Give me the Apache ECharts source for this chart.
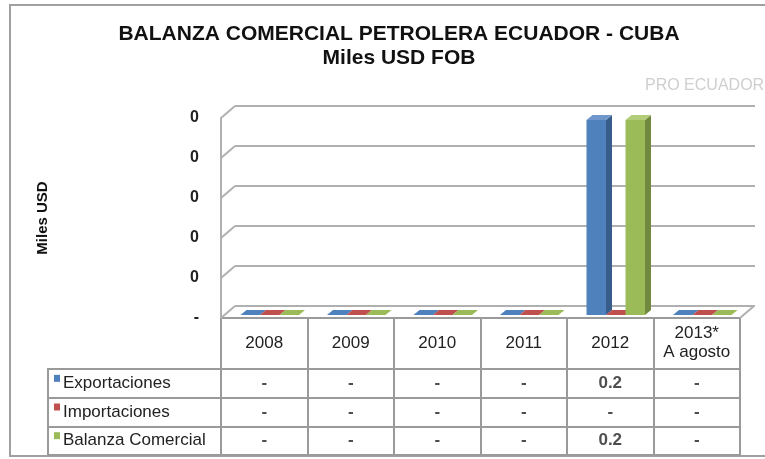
<!DOCTYPE html>
<html lang="es">
<head>
  <meta charset="UTF-8">
  <title>Balanza Comercial Petrolera Ecuador - Cuba</title>
  <script src="https://cdn.jsdelivr.net/npm/echarts@6/dist/echarts.min.js"></script>
  <style>
    html, body { margin: 0; padding: 0; background: #fff; }
    #chart { width: 765px; height: 459px; }
  </style>
</head>
<body>
  <div id="chart"></div>
  <script>
    // datos (miles USD FOB)
    var categories = ['2008', '2009', '2010', '2011', '2012', '2013*\nA agosto'];
    var seriesNames = ['Exportaciones', 'Importaciones', 'Balanza Comercial'];
    var exportaciones = [0, 0, 0, 0, 0.195, 0];
    var importaciones = [0, 0, 0, 0, 0, 0];
    var balanza = [0, 0, 0, 0, 0.195, 0];
    var yTicks = [0, 0.04, 0.08, 0.12, 0.16, 0.2];

    var seriesValues = [exportaciones, importaciones, balanza];
    var colors = ['#4F81BD', '#C0504D', '#9BBB59'];
    var sideColors = ['#385D8A', '#8C3836', '#71893F'];
    var topColors = ['#6F97CC', '#D06A67', '#B2CC7A'];

    var FONT = 'Liberation Sans, Arial, sans-serif';
    var GRID_COLOR = '#b0b0b0';
    var TABLE_COLOR = '#9a9a9a';
    // profundidad de la pared (efecto 3D)
    var WALL_DX = 14, WALL_DY = -12;
    // desplazamiento y fondo de las barras
    var BAR_W = 19.5, BAR_SHIFT_X = 5.5, BAR_SHIFT_Y = -3, BAR_DX = 6, BAR_DY = -5;

    var myChart = echarts.init(document.getElementById('chart'));

    function fmtValue(v) {
      return v === 0 ? '-' : v.toFixed(1);
    }

    // caja 3D para cada barra
    function boxRenderer(si) {
      return function (params, api) {
        var ci = api.value(0);
        var v = api.value(1);
        var base = api.coord([ci, 0]);
        var tip = api.coord([ci, v]);
        var x0 = base[0] + (si - 1) * BAR_W - BAR_W / 2 + BAR_SHIFT_X;
        var yb = base[1] + BAR_SHIFT_Y;
        var yt = tip[1] + BAR_SHIFT_Y;
        var children = [];
        if (v > 0) {
          children.push({
            type: 'rect',
            shape: { x: x0, y: yt, width: BAR_W, height: yb - yt },
            style: { fill: colors[si] }
          });
          children.push({
            type: 'polygon',
            shape: { points: [[x0 + BAR_W, yt], [x0 + BAR_W + BAR_DX, yt + BAR_DY], [x0 + BAR_W + BAR_DX, yb + BAR_DY], [x0 + BAR_W, yb]] },
            style: { fill: sideColors[si] }
          });
        }
        children.push({
          type: 'polygon',
          shape: { points: [[x0, yt], [x0 + BAR_W, yt], [x0 + BAR_W + BAR_DX, yt + BAR_DY], [x0 + BAR_DX, yt + BAR_DY]] },
          style: { fill: v > 0 ? topColors[si] : colors[si] }
        });
        return { type: 'group', children: children };
      };
    }

    // aristas diagonales de la pared y del piso
    function wallRenderer(params, api) {
      var v = api.value(1);
      var p = api.coord([0, v]);
      var bw = api.size([1, 0])[0];
      var left = p[0] - bw / 2;
      var lineStyle = { stroke: GRID_COLOR, lineWidth: 2 };
      var children = [{
        type: 'line',
        shape: { x1: left, y1: p[1], x2: left + WALL_DX, y2: p[1] + WALL_DY },
        style: lineStyle
      }];
      if (v === 0) {
        var right = api.coord([categories.length - 1, 0])[0] + bw / 2;
        children.push({
          type: 'line',
          shape: { x1: right, y1: p[1], x2: right + WALL_DX, y2: p[1] + WALL_DY },
          style: lineStyle
        });
      }
      return { type: 'group', children: children };
    }

    var tableCells = [];
    seriesValues.forEach(function (arr, si) {
      arr.forEach(function (v, ci) {
        tableCells.push([ci, si, v]);
      });
    });

    var legendRich = {};
    colors.forEach(function (c, i) {
      legendRich['sq' + i] = { width: 6, height: 7, backgroundColor: c, verticalAlign: 'top' };
    });
    legendRich.t = { fontFamily: FONT, fontSize: 17, color: '#222', padding: [0, 0, 0, 3] };

    var hiddenValueAxis = function (gi) {
      return { type: 'value', gridIndex: gi, show: false, min: 0, max: 1 };
    };

    var option = {
      backgroundColor: '#fff',
      animation: false,
      title: {
        text: 'BALANZA COMERCIAL PETROLERA ECUADOR - CUBA\nMiles USD FOB',
        left: 394,
        top: 17,
        textAlign: 'center',
        textStyle: {
          fontFamily: FONT,
          fontSize: 21,
          fontWeight: 'bold',
          color: '#111',
          lineHeight: 24
        }
      },
      graphic: [
        {
          type: 'rect',
          shape: { x: 10, y: 5, width: 770, height: 451 },
          style: { fill: 'none', stroke: '#a0a0a0', lineWidth: 2 },
          silent: true
        },
        {
          type: 'text',
          left: 645,
          top: 78,
          style: { text: 'PRO ECUADOR', fontFamily: FONT, fontSize: 16, fill: '#cfcfcf' },
          silent: true
        }
      ],
      grid: [
        { left: 221, right: 25, top: 118, height: 200 },   // plano frontal (barras)
        { left: 235, right: 10, top: 106, height: 200 },   // pared del fondo
        { left: 221, right: 25, top: 318, height: 51, show: true, borderColor: TABLE_COLOR, borderWidth: 2 }, // años
        { left: 48, width: 173, top: 369, height: 86, show: true, borderColor: TABLE_COLOR, borderWidth: 2 },  // leyenda
        { left: 221, right: 25, top: 369, height: 86, show: true, borderColor: TABLE_COLOR, borderWidth: 2 }   // valores
      ],
      xAxis: [
        { type: 'category', gridIndex: 0, data: categories, show: false },
        { type: 'category', gridIndex: 1, data: categories, show: false },
        {
          type: 'category', gridIndex: 2, data: categories,
          axisLine: { show: false }, axisTick: { show: false },
          splitLine: { show: true, interval: 0, lineStyle: { color: TABLE_COLOR, width: 2 } },
          axisLabel: {
            interval: 0, margin: -26, verticalAlign: 'middle',
            fontFamily: FONT, fontSize: 17, color: '#222', lineHeight: 19
          }
        },
        hiddenValueAxis(3),
        {
          type: 'category', gridIndex: 4, data: categories,
          axisLine: { show: false }, axisTick: { show: false }, axisLabel: { show: false },
          splitLine: { show: true, interval: 0, lineStyle: { color: TABLE_COLOR, width: 2 } }
        }
      ],
      yAxis: [
        {
          type: 'value', gridIndex: 0, min: 0, max: 0.2, interval: 0.04,
          name: 'Miles USD', nameLocation: 'middle', nameRotate: 90, nameGap: 171,
          nameTextStyle: { fontFamily: FONT, fontSize: 15, fontWeight: 'bold', color: '#111' },
          axisLine: { show: true, lineStyle: { color: GRID_COLOR, width: 2 } },
          axisTick: { show: false },
          splitLine: { show: false },
          axisLabel: {
            margin: 22, fontFamily: FONT, fontSize: 16, fontWeight: 'bold', color: '#222',
            formatter: function (v) { return v === 0 ? '-' : Math.round(v).toString(); }
          }
        },
        {
          type: 'value', gridIndex: 1, min: 0, max: 0.2, interval: 0.04,
          axisLine: { show: false }, axisTick: { show: false }, axisLabel: { show: false },
          splitLine: { show: true, lineStyle: { color: GRID_COLOR, width: 2 } }
        },
        hiddenValueAxis(2),
        {
          type: 'category', gridIndex: 3, data: seriesNames, inverse: true,
          axisLine: { show: false }, axisTick: { show: false },
          splitLine: { show: true, interval: 0, lineStyle: { color: TABLE_COLOR, width: 2 } },
          axisLabel: {
            inside: true, margin: 6, align: 'left', verticalAlign: 'middle',
            formatter: function (name, i) {
              return '{sq' + i + '|}{t|' + name + '}';
            },
            rich: legendRich
          }
        },
        {
          type: 'category', gridIndex: 4, data: seriesNames, inverse: true,
          axisLine: { show: false }, axisTick: { show: false }, axisLabel: { show: false },
          splitLine: { show: true, interval: 0, lineStyle: { color: TABLE_COLOR, width: 2 } }
        }
      ],
      series: [
        {
          type: 'custom', name: 'pared', xAxisIndex: 0, yAxisIndex: 0, silent: true,
          renderItem: wallRenderer,
          data: yTicks.map(function (v) { return [0, v]; })
        }
      ].concat(seriesValues.map(function (arr, si) {
        return {
          type: 'custom', name: seriesNames[si], xAxisIndex: 0, yAxisIndex: 0,
          renderItem: boxRenderer(si),
          encode: { x: 0, y: 1 },
          data: arr.map(function (v, ci) { return [ci, v]; })
        };
      })).concat([{
        type: 'scatter', name: 'tabla', xAxisIndex: 4, yAxisIndex: 4, silent: true,
        symbolSize: 1, itemStyle: { color: 'rgba(0,0,0,0)' },
        label: {
          show: true, position: 'inside',
          fontFamily: FONT, fontSize: 17, fontWeight: 'bold', color: '#222',
          formatter: function (p) { return fmtValue(p.value[2]); }
        },
        data: tableCells
      }])
    };

    myChart.setOption(option);
  </script>
</body>
</html>
